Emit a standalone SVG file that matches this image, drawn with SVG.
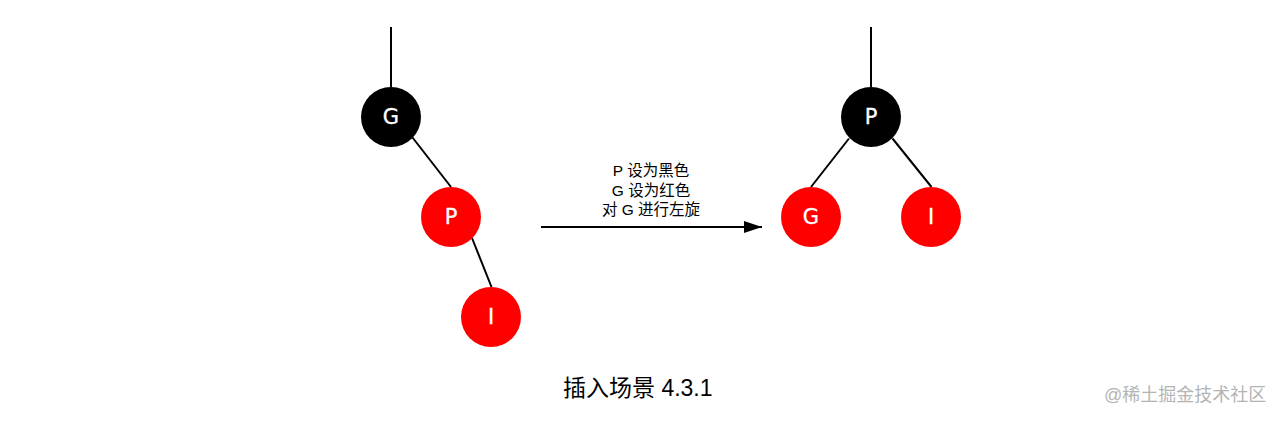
<svg xmlns="http://www.w3.org/2000/svg" width="1278" height="422" viewBox="0 0 1278 422">
<style>
.edge{stroke:#000;stroke-width:2;fill:none}
.black{fill:#000}
.red{fill:#ff0000}
.nl{font-family:"DejaVu Sans",sans-serif;font-size:21px;fill:#fff;stroke:#fff;stroke-width:0.3;text-anchor:middle;dominant-baseline:central}
.lbl{font-family:"Liberation Sans","Noto Sans CJK SC",sans-serif;font-size:15.5px;fill:#000;text-anchor:middle}
.title{font-family:"Liberation Sans","Noto Sans CJK SC",sans-serif;font-size:23px;fill:#000}
.wm{font-family:"Liberation Sans","Noto Sans CJK SC",sans-serif;font-size:18px;fill:#b4b4b4}
</style>
<defs>
<marker id="arr" markerWidth="20" markerHeight="14" refX="18" refY="6" orient="auto" markerUnits="userSpaceOnUse">
<path d="M0,0 L18,6 L0,12 Z" fill="#000"/>
</marker>
</defs>
<rect width="1278" height="422" fill="#fff"/>
<g id="connectors">
<line class="edge" x1="391" y1="27" x2="391" y2="87"/>
<line class="edge" x1="412.5" y1="137.5" x2="451" y2="187"/>
<line class="edge" x1="472" y1="238" x2="491.5" y2="287"/>
<line class="edge" x1="871" y1="27" x2="871" y2="87"/>
<line class="edge" x1="849" y1="138.5" x2="811" y2="187"/>
<line class="edge" x1="892.5" y1="138.5" x2="931.5" y2="187"/>
<line class="edge" x1="541" y1="227" x2="762" y2="227" marker-end="url(#arr)"/>
</g>
<g id="left-G"><circle class="black" cx="391" cy="117" r="30"/><text class="nl" x="391" y="117">G</text></g>
<g id="left-P"><circle class="red" cx="451" cy="217" r="30"/><text class="nl" x="451" y="217">P</text></g>
<g id="left-I"><circle class="red" cx="491" cy="317" r="30"/><text class="nl" x="491" y="317">I</text></g>
<g id="right-P"><circle class="black" cx="871" cy="117" r="30"/><text class="nl" x="871" y="117">P</text></g>
<g id="right-G"><circle class="red" cx="811" cy="217" r="30"/><text class="nl" x="811" y="217">G</text></g>
<g id="right-I"><circle class="red" cx="931" cy="217" r="30"/><text class="nl" x="931" y="217">I</text></g>
<g id="arrow-label">
<text class="lbl" x="651" y="176">P 设为黑色</text>
<text class="lbl" x="651" y="195.5">G 设为红色</text>
<text class="lbl" x="651" y="215">对 G 进行左旋</text>
</g>
<text class="title" x="563" y="396">插入场景 4.3.1</text>
<text class="wm" x="1104" y="401">@稀土掘金技术社区</text>
</svg>
